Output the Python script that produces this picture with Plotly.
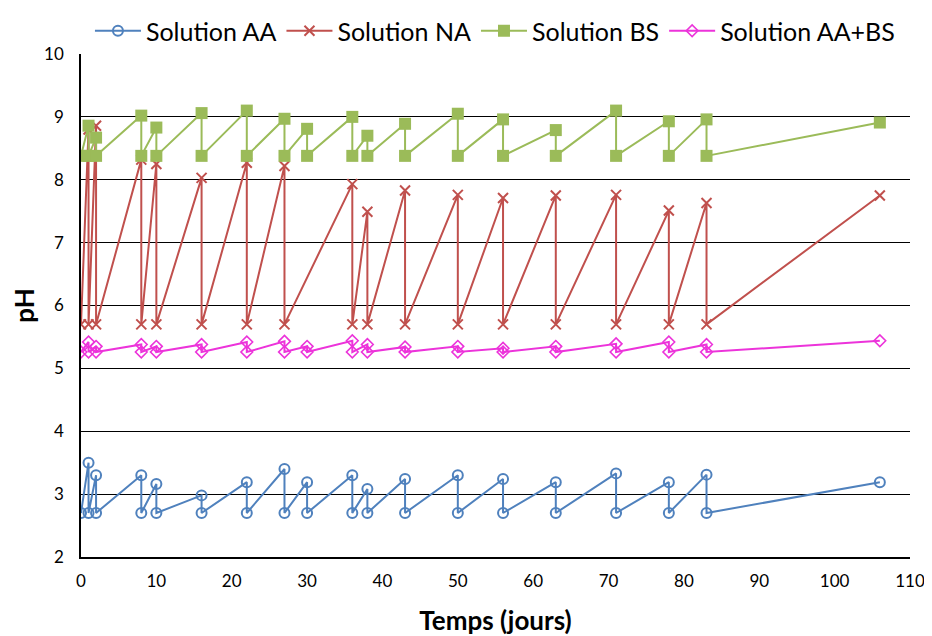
import plotly.graph_objects as go

# Sampling times (days)
times = [0, 1, 2, 8, 10, 16, 22, 27, 30, 36, 38, 43, 50, 56, 63, 71, 78, 83, 106]
# Solution NA was not sampled at day 30
times_NA = [0, 1, 2, 8, 10, 16, 22, 27, 36, 38, 43, 50, 56, 63, 71, 78, 83, 106]

# pH just after renewal (start value) for each solution
low_AA = 2.70
low_NA = 5.70
low_BS = 8.38
low_AABS = 5.26

# pH measured before renewal at each later sampling time
peak_AA = [3.50, 3.30, 3.30, 3.16, 2.98, 3.19, 3.40, 3.19, 3.30, 3.08, 3.24, 3.30, 3.24, 3.19, 3.33, 3.19, 3.31, 3.19]
peak_NA = [8.80, 8.86, 8.32, 8.25, 8.03, 8.27, 8.22, 7.93, 7.49, 7.83, 7.76, 7.71, 7.75, 7.76, 7.51, 7.63, 7.75]
peak_BS = [8.86, 8.67, 9.02, 8.83, 9.06, 9.10, 8.97, 8.81, 9.00, 8.70, 8.89, 9.05, 8.96, 8.79, 9.10, 8.93, 8.96, 8.91]
peak_AABS = [5.42, 5.35, 5.38, 5.35, 5.38, 5.42, 5.43, 5.35, 5.44, 5.38, 5.34, 5.35, 5.32, 5.35, 5.39, 5.42, 5.38, 5.44]

names = ["Solution AA", "Solution NA", "Solution BS", "Solution AA+BS"]
colors = ["#4F81BD", "#C0504D", "#9BBB59", "#EC33DA"]
x_ticks = [0, 10, 20, 30, 40, 50, 60, 70, 80, 90, 100, 110]
y_ticks = [2, 3, 4, 5, 6, 7, 8, 9, 10]


def sawtooth(ts, low, peaks):
    xs, ys = [ts[0]], [low]
    for i, (t, p) in enumerate(zip(ts[1:], peaks)):
        xs.append(t)
        ys.append(p)
        if i < len(peaks) - 1:
            xs.append(t)
            ys.append(low)
    return xs, ys


fig = go.Figure()

series = [
    (names[0], times, low_AA, peak_AA, dict(symbol="circle-open", size=10, line=dict(width=2))),
    (names[1], times_NA, low_NA, peak_NA, dict(symbol="x-thin-open", size=10, line=dict(width=2))),
    (names[2], times, low_BS, peak_BS, dict(symbol="square", size=12)),
    (names[3], times, low_AABS, peak_AABS, dict(symbol="diamond-open", size=9, line=dict(width=1.6))),
]

for (name, ts, low, peaks, mk), col in zip(series, colors):
    xs, ys = sawtooth(ts, low, peaks)
    mk = dict(mk)
    mk["color"] = col
    if "line" in mk:
        mk["line"] = dict(mk["line"], color=col)
    fig.add_trace(go.Scatter(x=xs, y=ys, mode="lines+markers", name=name,
                             line=dict(color=col, width=2), marker=mk))

font_family = "Lato, sans-serif"

# the page body has an 8px margin, so the figure is sized to fit the window
fig.update_layout(
    width=924, height=628,
    margin=dict(l=73, r=22, t=45, b=79),
    plot_bgcolor="white", paper_bgcolor="white",
    font=dict(family=font_family, size=17, color="#000000"),
    legend=dict(orientation="h", xref="container", yref="container",
                x=0.527, xanchor="center", y=1.0, yanchor="top",
                font=dict(size=25), itemwidth=46, tracegroupgap=0),
    xaxis=dict(range=[0, 110], tickvals=x_ticks, showgrid=False,
               showline=True, linecolor="black", linewidth=1.5,
               ticks="", zeroline=False, automargin=False,
               ticklabelstandoff=8,
               title=dict(text="<b>Temps (jours)</b>", font=dict(size=26), standoff=26)),
    yaxis=dict(range=[2, 10], tickvals=y_ticks, showgrid=True,
               gridcolor="black", gridwidth=1, showline=True,
               linecolor="black", linewidth=1.5, ticks="", zeroline=False,
               automargin=False, ticklabelstandoff=12,
               title=dict(text="<b>pH</b>", font=dict(size=26), standoff=30)),
)

fig.write_html("out.html")
